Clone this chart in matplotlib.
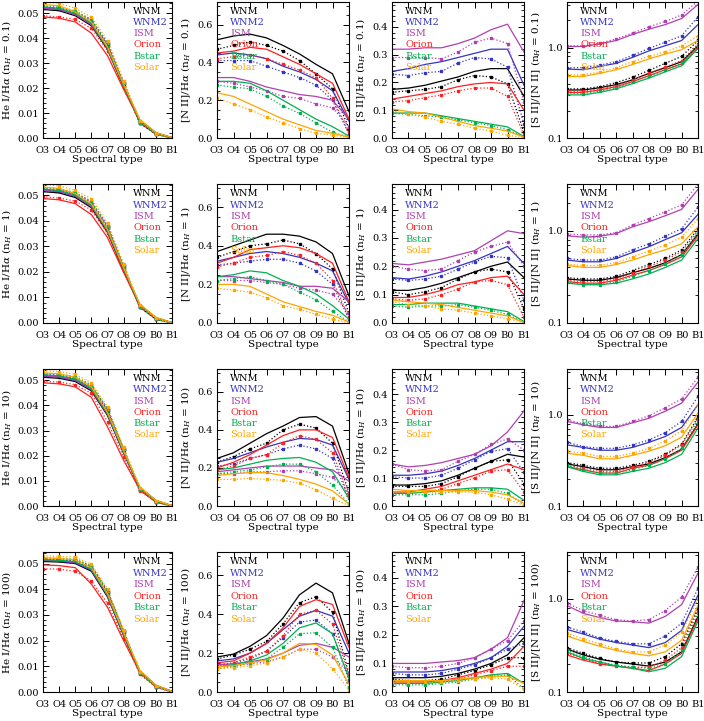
import numpy as np
import matplotlib
matplotlib.use('Agg')
import matplotlib.pyplot as plt
from matplotlib.ticker import MultipleLocator, LogLocator, NullFormatter, FixedLocator, FixedFormatter

plt.rcParams['font.family'] = ['DejaVu Serif']
plt.rcParams['mathtext.fontset'] = 'dejavuserif'

models = ['WNM', 'WNM2', 'ISM', 'Orion', 'Bstar', 'Solar']
colors = ['black', '#3535c0', '#b040b0', '#ff2020', '#00b050', '#ffa500']
spec_types = ['O3', 'O4', 'O5', 'O6', 'O7', 'O8', 'O9', 'B0', 'B1']
densities = ['0.1', '1', '10', '100']

# He I / Halpha  (rows: WNM, WNM2, ISM, Orion, Bstar, Solar)
he_01_s = [[0.0515, 0.0510, 0.0490, 0.0450, 0.0355, 0.0205, 0.0070, 0.0020, 0.0001],
           [0.0520, 0.0515, 0.0495, 0.0455, 0.0360, 0.0210, 0.0070, 0.0020, 0.0001],
           [0.0520, 0.0515, 0.0495, 0.0455, 0.0360, 0.0210, 0.0072, 0.0021, 0.0001],
           [0.0485, 0.0480, 0.0465, 0.0420, 0.0330, 0.0195, 0.0068, 0.0020, 0.0001],
           [0.0525, 0.0520, 0.0500, 0.0460, 0.0360, 0.0210, 0.0070, 0.0020, 0.0001],
           [0.0535, 0.0530, 0.0505, 0.0465, 0.0365, 0.0215, 0.0075, 0.0022, 0.0002]]
he_01_d = [[0.0520, 0.0515, 0.0500, 0.0465, 0.0370, 0.0215, 0.0060, 0.0015, 0.0],
           [0.0525, 0.0520, 0.0505, 0.0470, 0.0375, 0.0220, 0.0060, 0.0015, 0.0],
           [0.0525, 0.0520, 0.0505, 0.0475, 0.0380, 0.0225, 0.0065, 0.0017, 0.0],
           [0.0490, 0.0485, 0.0475, 0.0440, 0.0350, 0.0205, 0.0060, 0.0015, 0.0],
           [0.0530, 0.0525, 0.0510, 0.0475, 0.0380, 0.0220, 0.0060, 0.0015, 0.0],
           [0.0545, 0.0540, 0.0520, 0.0485, 0.0390, 0.0230, 0.0070, 0.0018, 0.0]]
he_1_s = [[0.0515, 0.0510, 0.0492, 0.0452, 0.0355, 0.0205, 0.0070, 0.0020, 0.0001],
          [0.0520, 0.0515, 0.0497, 0.0457, 0.0360, 0.0210, 0.0071, 0.0020, 0.0001],
          [0.0520, 0.0516, 0.0498, 0.0458, 0.0362, 0.0212, 0.0072, 0.0021, 0.0001],
          [0.0488, 0.0483, 0.0468, 0.0425, 0.0335, 0.0198, 0.0068, 0.0020, 0.0001],
          [0.0525, 0.0520, 0.0502, 0.0462, 0.0362, 0.0212, 0.0071, 0.0020, 0.0001],
          [0.0533, 0.0528, 0.0507, 0.0467, 0.0367, 0.0217, 0.0075, 0.0022, 0.0002]]
he_1_d = [[0.0520, 0.0516, 0.0502, 0.0467, 0.0372, 0.0217, 0.0062, 0.0015, 0.0],
          [0.0525, 0.0521, 0.0507, 0.0472, 0.0377, 0.0222, 0.0062, 0.0015, 0.0],
          [0.0526, 0.0522, 0.0508, 0.0476, 0.0382, 0.0226, 0.0066, 0.0017, 0.0],
          [0.0495, 0.0490, 0.0478, 0.0443, 0.0352, 0.0207, 0.0061, 0.0015, 0.0],
          [0.0530, 0.0526, 0.0512, 0.0477, 0.0382, 0.0222, 0.0062, 0.0015, 0.0],
          [0.0542, 0.0538, 0.0520, 0.0487, 0.0392, 0.0232, 0.0070, 0.0018, 0.0]]
he_10_s = [[0.0512, 0.0508, 0.0495, 0.0458, 0.0360, 0.0210, 0.0072, 0.0021, 0.0001],
           [0.0516, 0.0512, 0.0499, 0.0462, 0.0364, 0.0213, 0.0073, 0.0021, 0.0001],
           [0.0518, 0.0514, 0.0501, 0.0464, 0.0366, 0.0215, 0.0074, 0.0022, 0.0001],
           [0.0490, 0.0486, 0.0474, 0.0432, 0.0315, 0.0182, 0.0066, 0.0020, 0.0001],
           [0.0522, 0.0518, 0.0505, 0.0468, 0.0368, 0.0216, 0.0073, 0.0021, 0.0001],
           [0.0530, 0.0526, 0.0512, 0.0474, 0.0372, 0.0220, 0.0077, 0.0023, 0.0002]]
he_10_d = [[0.0518, 0.0515, 0.0505, 0.0472, 0.0378, 0.0222, 0.0064, 0.0016, 0.0],
           [0.0522, 0.0519, 0.0509, 0.0476, 0.0382, 0.0225, 0.0065, 0.0016, 0.0],
           [0.0524, 0.0521, 0.0511, 0.0478, 0.0385, 0.0228, 0.0068, 0.0017, 0.0],
           [0.0496, 0.0493, 0.0483, 0.0448, 0.0335, 0.0195, 0.0060, 0.0015, 0.0],
           [0.0528, 0.0525, 0.0515, 0.0482, 0.0387, 0.0228, 0.0065, 0.0016, 0.0],
           [0.0538, 0.0535, 0.0524, 0.0490, 0.0394, 0.0234, 0.0072, 0.0019, 0.0]]
he_100_s = [[0.0508, 0.0506, 0.0500, 0.0470, 0.0370, 0.0220, 0.0080, 0.0025, 0.0002],
            [0.0511, 0.0509, 0.0503, 0.0474, 0.0374, 0.0223, 0.0081, 0.0025, 0.0002],
            [0.0513, 0.0511, 0.0505, 0.0476, 0.0376, 0.0225, 0.0082, 0.0026, 0.0002],
            [0.0495, 0.0492, 0.0484, 0.0420, 0.0330, 0.0200, 0.0078, 0.0024, 0.0002],
            [0.0515, 0.0513, 0.0507, 0.0478, 0.0378, 0.0226, 0.0081, 0.0025, 0.0002],
            [0.0522, 0.0520, 0.0514, 0.0484, 0.0382, 0.0230, 0.0085, 0.0027, 0.0003]]
he_100_d = [[0.0515, 0.0513, 0.0510, 0.0484, 0.0386, 0.0232, 0.0073, 0.0020, 0.0],
            [0.0518, 0.0516, 0.0513, 0.0488, 0.0390, 0.0235, 0.0074, 0.0020, 0.0],
            [0.0520, 0.0518, 0.0515, 0.0490, 0.0393, 0.0238, 0.0076, 0.0021, 0.0],
            [0.0480, 0.0478, 0.0470, 0.0432, 0.0345, 0.0208, 0.0070, 0.0019, 0.0],
            [0.0522, 0.0520, 0.0517, 0.0492, 0.0395, 0.0238, 0.0074, 0.0020, 0.0],
            [0.0530, 0.0528, 0.0525, 0.0498, 0.0400, 0.0243, 0.0078, 0.0022, 0.0]]

# [N II] / Halpha
n2_01_s = [[0.52, 0.54, 0.55, 0.53, 0.49, 0.445, 0.39, 0.34, 0.14],
           [0.44, 0.45, 0.44, 0.42, 0.38, 0.35, 0.31, 0.25, 0.09],
           [0.32, 0.32, 0.30, 0.27, 0.25, 0.23, 0.22, 0.20, 0.10],
           [0.45, 0.46, 0.48, 0.47, 0.43, 0.39, 0.34, 0.29, 0.10],
           [0.30, 0.30, 0.29, 0.25, 0.20, 0.15, 0.10, 0.06, 0.01],
           [0.24, 0.22, 0.18, 0.14, 0.10, 0.07, 0.04, 0.025, 0.005]]
n2_01_d = [[0.47, 0.49, 0.51, 0.49, 0.46, 0.41, 0.34, 0.26, 0.05],
           [0.41, 0.41, 0.41, 0.38, 0.35, 0.32, 0.28, 0.20, 0.02],
           [0.30, 0.29, 0.27, 0.25, 0.22, 0.21, 0.18, 0.16, 0.06],
           [0.42, 0.43, 0.44, 0.42, 0.39, 0.36, 0.32, 0.21, 0.03],
           [0.28, 0.27, 0.26, 0.22, 0.17, 0.13, 0.08, 0.03, 0.005],
           [0.21, 0.18, 0.15, 0.11, 0.08, 0.05, 0.025, 0.015, 0.002]]
n2_1_s = [[0.37, 0.40, 0.43, 0.46, 0.46, 0.45, 0.42, 0.36, 0.14],
          [0.32, 0.34, 0.36, 0.37, 0.36, 0.34, 0.31, 0.27, 0.10],
          [0.24, 0.24, 0.23, 0.22, 0.21, 0.19, 0.19, 0.18, 0.11],
          [0.31, 0.34, 0.38, 0.39, 0.40, 0.39, 0.36, 0.31, 0.11],
          [0.24, 0.25, 0.27, 0.26, 0.22, 0.19, 0.15, 0.09, 0.02],
          [0.20, 0.20, 0.19, 0.15, 0.11, 0.085, 0.06, 0.04, 0.005]]
n2_1_d = [[0.34, 0.37, 0.40, 0.41, 0.43, 0.41, 0.36, 0.28, 0.05],
          [0.30, 0.31, 0.32, 0.33, 0.33, 0.31, 0.27, 0.20, 0.02],
          [0.22, 0.22, 0.22, 0.21, 0.20, 0.18, 0.17, 0.15, 0.05],
          [0.29, 0.31, 0.34, 0.35, 0.37, 0.35, 0.31, 0.22, 0.03],
          [0.22, 0.23, 0.24, 0.22, 0.20, 0.16, 0.12, 0.06, 0.005],
          [0.18, 0.17, 0.16, 0.13, 0.09, 0.07, 0.045, 0.02, 0.001]]
n2_10_s = [[0.25, 0.28, 0.33, 0.38, 0.42, 0.465, 0.47, 0.42, 0.17],
           [0.23, 0.25, 0.28, 0.31, 0.335, 0.355, 0.35, 0.32, 0.14],
           [0.18, 0.19, 0.20, 0.21, 0.21, 0.21, 0.20, 0.19, 0.13],
           [0.20, 0.23, 0.27, 0.32, 0.37, 0.40, 0.40, 0.36, 0.15],
           [0.19, 0.20, 0.22, 0.24, 0.25, 0.255, 0.23, 0.18, 0.04],
           [0.16, 0.17, 0.175, 0.175, 0.16, 0.14, 0.115, 0.08, 0.01]]
n2_10_d = [[0.23, 0.26, 0.30, 0.33, 0.40, 0.43, 0.41, 0.33, 0.07],
           [0.21, 0.22, 0.25, 0.27, 0.30, 0.32, 0.30, 0.25, 0.04],
           [0.17, 0.17, 0.18, 0.18, 0.185, 0.185, 0.17, 0.15, 0.07],
           [0.19, 0.21, 0.25, 0.27, 0.33, 0.37, 0.35, 0.28, 0.05],
           [0.17, 0.18, 0.19, 0.205, 0.22, 0.22, 0.18, 0.11, 0.01],
           [0.14, 0.14, 0.145, 0.14, 0.135, 0.12, 0.085, 0.04, 0.002]]
n2_100_s = [[0.18, 0.195, 0.235, 0.29, 0.38, 0.50, 0.56, 0.51, 0.25],
            [0.16, 0.17, 0.20, 0.25, 0.32, 0.39, 0.42, 0.39, 0.20],
            [0.14, 0.145, 0.155, 0.17, 0.20, 0.24, 0.25, 0.23, 0.18],
            [0.15, 0.16, 0.20, 0.25, 0.33, 0.44, 0.475, 0.45, 0.23],
            [0.13, 0.14, 0.16, 0.19, 0.25, 0.33, 0.355, 0.30, 0.07],
            [0.13, 0.135, 0.15, 0.165, 0.20, 0.25, 0.245, 0.19, 0.04]]
n2_100_d = [[0.17, 0.19, 0.22, 0.26, 0.35, 0.46, 0.49, 0.41, 0.09],
            [0.14, 0.15, 0.17, 0.21, 0.28, 0.36, 0.37, 0.30, 0.06],
            [0.13, 0.135, 0.145, 0.155, 0.18, 0.22, 0.22, 0.18, 0.10],
            [0.13, 0.15, 0.18, 0.21, 0.29, 0.40, 0.42, 0.35, 0.08],
            [0.12, 0.13, 0.15, 0.17, 0.23, 0.30, 0.305, 0.23, 0.02],
            [0.12, 0.125, 0.135, 0.15, 0.18, 0.22, 0.20, 0.12, 0.01]]

# [S II] / Halpha
s2_01_s = [[0.175, 0.18, 0.19, 0.205, 0.22, 0.24, 0.25, 0.25, 0.15],
           [0.24, 0.25, 0.265, 0.275, 0.29, 0.305, 0.32, 0.32, 0.19],
           [0.32, 0.32, 0.325, 0.325, 0.34, 0.36, 0.39, 0.41, 0.31],
           [0.14, 0.15, 0.16, 0.17, 0.185, 0.195, 0.20, 0.195, 0.10],
           [0.09, 0.09, 0.09, 0.08, 0.07, 0.06, 0.05, 0.04, 0.005],
           [0.105, 0.095, 0.09, 0.075, 0.06, 0.045, 0.035, 0.025, 0.003]]
s2_01_d = [[0.165, 0.17, 0.175, 0.185, 0.21, 0.225, 0.22, 0.195, 0.02],
           [0.23, 0.225, 0.235, 0.24, 0.27, 0.29, 0.285, 0.255, 0.05],
           [0.29, 0.29, 0.29, 0.285, 0.31, 0.345, 0.36, 0.34, 0.13],
           [0.13, 0.135, 0.145, 0.155, 0.17, 0.18, 0.18, 0.15, 0.01],
           [0.09, 0.085, 0.08, 0.075, 0.065, 0.055, 0.045, 0.03, 0.002],
           [0.10, 0.085, 0.075, 0.06, 0.05, 0.035, 0.025, 0.01, 0.001]]
s2_1_s = [[0.115, 0.115, 0.125, 0.14, 0.16, 0.18, 0.20, 0.215, 0.16],
          [0.16, 0.155, 0.165, 0.18, 0.20, 0.22, 0.245, 0.27, 0.21],
          [0.21, 0.205, 0.215, 0.225, 0.24, 0.255, 0.29, 0.325, 0.315],
          [0.09, 0.09, 0.10, 0.115, 0.135, 0.145, 0.16, 0.165, 0.10],
          [0.065, 0.065, 0.07, 0.07, 0.07, 0.06, 0.05, 0.04, 0.005],
          [0.08, 0.075, 0.07, 0.065, 0.055, 0.045, 0.035, 0.025, 0.002]]
s2_1_d = [[0.11, 0.10, 0.11, 0.125, 0.155, 0.18, 0.19, 0.18, 0.05],
          [0.155, 0.15, 0.155, 0.165, 0.19, 0.215, 0.235, 0.23, 0.08],
          [0.20, 0.19, 0.185, 0.19, 0.22, 0.25, 0.27, 0.285, 0.20],
          [0.085, 0.08, 0.085, 0.10, 0.12, 0.145, 0.15, 0.135, 0.02],
          [0.06, 0.055, 0.06, 0.06, 0.065, 0.055, 0.045, 0.03, 0.002],
          [0.075, 0.065, 0.06, 0.05, 0.045, 0.035, 0.025, 0.015, 0.001]]
s2_10_s = [[0.075, 0.075, 0.08, 0.09, 0.11, 0.135, 0.16, 0.185, 0.175],
           [0.11, 0.11, 0.115, 0.125, 0.145, 0.17, 0.20, 0.23, 0.23],
           [0.15, 0.14, 0.145, 0.155, 0.17, 0.185, 0.215, 0.265, 0.34],
           [0.05, 0.05, 0.06, 0.07, 0.09, 0.11, 0.13, 0.15, 0.13],
           [0.045, 0.045, 0.05, 0.055, 0.06, 0.065, 0.065, 0.06, 0.02],
           [0.06, 0.055, 0.055, 0.055, 0.055, 0.055, 0.05, 0.04, 0.01]]
s2_10_d = [[0.07, 0.07, 0.07, 0.08, 0.105, 0.135, 0.16, 0.165, 0.08],
           [0.105, 0.10, 0.10, 0.11, 0.135, 0.165, 0.195, 0.205, 0.12],
           [0.15, 0.13, 0.125, 0.13, 0.16, 0.185, 0.22, 0.24, 0.20],
           [0.045, 0.045, 0.05, 0.06, 0.08, 0.10, 0.125, 0.13, 0.05],
           [0.04, 0.04, 0.04, 0.045, 0.055, 0.06, 0.06, 0.045, 0.005],
           [0.05, 0.05, 0.05, 0.05, 0.05, 0.05, 0.04, 0.025, 0.002]]
s2_100_s = [[0.05, 0.05, 0.05, 0.055, 0.065, 0.08, 0.10, 0.13, 0.19],
            [0.07, 0.07, 0.07, 0.075, 0.085, 0.10, 0.12, 0.16, 0.23],
            [0.10, 0.10, 0.10, 0.105, 0.11, 0.12, 0.15, 0.19, 0.32],
            [0.035, 0.035, 0.035, 0.04, 0.05, 0.065, 0.08, 0.10, 0.16],
            [0.03, 0.03, 0.03, 0.035, 0.04, 0.05, 0.06, 0.065, 0.03],
            [0.04, 0.04, 0.04, 0.04, 0.045, 0.05, 0.055, 0.055, 0.03]]
s2_100_d = [[0.045, 0.04, 0.04, 0.045, 0.06, 0.075, 0.095, 0.12, 0.12],
            [0.065, 0.06, 0.06, 0.065, 0.08, 0.095, 0.12, 0.15, 0.17],
            [0.09, 0.085, 0.085, 0.09, 0.10, 0.12, 0.15, 0.18, 0.25],
            [0.03, 0.03, 0.03, 0.035, 0.045, 0.06, 0.075, 0.09, 0.09],
            [0.025, 0.025, 0.025, 0.03, 0.035, 0.045, 0.055, 0.06, 0.01],
            [0.035, 0.035, 0.035, 0.035, 0.04, 0.045, 0.05, 0.045, 0.01]]

# [S II] / [N II]
sn_01_s = [[0.34, 0.34, 0.36, 0.39, 0.44, 0.52, 0.60, 0.70, 1.05],
           [0.58, 0.57, 0.62, 0.67, 0.78, 0.92, 1.05, 1.20, 1.80],
           [1.03, 1.03, 1.10, 1.20, 1.40, 1.60, 1.80, 2.10, 3.00],
           [0.32, 0.32, 0.34, 0.37, 0.42, 0.49, 0.57, 0.66, 1.00],
           [0.30, 0.30, 0.32, 0.35, 0.40, 0.46, 0.54, 0.63, 0.98],
           [0.48, 0.48, 0.52, 0.57, 0.65, 0.75, 0.85, 0.95, 1.20]]
sn_01_d = [[0.35, 0.35, 0.37, 0.41, 0.47, 0.56, 0.67, 0.80, 1.20],
           [0.60, 0.60, 0.64, 0.70, 0.82, 0.98, 1.15, 1.35, 2.20],
           [1.05, 1.05, 1.12, 1.25, 1.45, 1.70, 1.95, 2.30, 3.30],
           [0.33, 0.33, 0.35, 0.38, 0.44, 0.52, 0.61, 0.72, 1.10],
           [0.31, 0.31, 0.33, 0.36, 0.42, 0.48, 0.57, 0.67, 1.05],
           [0.50, 0.50, 0.54, 0.60, 0.70, 0.80, 0.90, 1.05, 1.35]]
sn_1_s = [[0.30, 0.29, 0.29, 0.31, 0.35, 0.39, 0.45, 0.55, 0.92],
          [0.48, 0.46, 0.46, 0.50, 0.58, 0.67, 0.80, 0.95, 1.50],
          [0.88, 0.85, 0.87, 0.93, 1.10, 1.25, 1.45, 1.70, 2.80],
          [0.28, 0.27, 0.27, 0.29, 0.33, 0.37, 0.43, 0.52, 0.88],
          [0.27, 0.26, 0.26, 0.27, 0.30, 0.34, 0.40, 0.48, 0.82],
          [0.42, 0.40, 0.40, 0.43, 0.48, 0.55, 0.62, 0.72, 1.10]]
sn_1_d = [[0.31, 0.30, 0.30, 0.32, 0.37, 0.43, 0.50, 0.62, 1.05],
          [0.50, 0.48, 0.48, 0.52, 0.62, 0.72, 0.87, 1.05, 1.80],
          [0.92, 0.90, 0.90, 0.95, 1.15, 1.35, 1.60, 1.90, 3.20],
          [0.29, 0.28, 0.28, 0.30, 0.35, 0.41, 0.48, 0.59, 1.00],
          [0.28, 0.26, 0.26, 0.28, 0.32, 0.37, 0.44, 0.55, 0.95],
          [0.43, 0.42, 0.42, 0.45, 0.52, 0.60, 0.70, 0.85, 1.35]]
sn_10_s = [[0.29, 0.27, 0.25, 0.25, 0.27, 0.29, 0.34, 0.42, 0.80],
           [0.47, 0.44, 0.41, 0.41, 0.44, 0.50, 0.58, 0.73, 1.30],
           [0.85, 0.78, 0.73, 0.73, 0.82, 0.92, 1.10, 1.35, 2.30],
           [0.27, 0.25, 0.23, 0.23, 0.26, 0.28, 0.33, 0.41, 0.78],
           [0.27, 0.24, 0.22, 0.22, 0.24, 0.26, 0.30, 0.37, 0.72],
           [0.38, 0.36, 0.33, 0.33, 0.36, 0.40, 0.46, 0.57, 1.05]]
sn_10_d = [[0.30, 0.28, 0.26, 0.26, 0.28, 0.31, 0.37, 0.48, 0.95],
           [0.50, 0.45, 0.43, 0.43, 0.47, 0.53, 0.64, 0.85, 1.60],
           [0.88, 0.80, 0.75, 0.75, 0.85, 0.98, 1.20, 1.50, 2.60],
           [0.28, 0.26, 0.24, 0.24, 0.27, 0.30, 0.36, 0.47, 0.90],
           [0.28, 0.25, 0.23, 0.23, 0.25, 0.28, 0.33, 0.43, 0.85],
           [0.40, 0.38, 0.35, 0.35, 0.38, 0.43, 0.52, 0.67, 1.30]]
sn_100_s = [[0.29, 0.25, 0.225, 0.21, 0.20, 0.19, 0.21, 0.27, 0.65],
            [0.47, 0.42, 0.37, 0.34, 0.32, 0.30, 0.34, 0.46, 1.10],
            [0.85, 0.70, 0.63, 0.58, 0.57, 0.55, 0.65, 0.87, 1.90],
            [0.25, 0.22, 0.20, 0.19, 0.18, 0.17, 0.20, 0.26, 0.62],
            [0.27, 0.23, 0.21, 0.19, 0.18, 0.165, 0.18, 0.24, 0.58],
            [0.40, 0.35, 0.31, 0.28, 0.26, 0.245, 0.27, 0.36, 0.85]]
sn_100_d = [[0.30, 0.26, 0.23, 0.21, 0.205, 0.205, 0.24, 0.33, 0.80],
            [0.50, 0.44, 0.38, 0.35, 0.33, 0.33, 0.40, 0.55, 1.30],
            [0.90, 0.75, 0.67, 0.60, 0.58, 0.60, 0.75, 1.05, 2.20],
            [0.26, 0.23, 0.20, 0.19, 0.185, 0.185, 0.22, 0.30, 0.75],
            [0.28, 0.24, 0.21, 0.195, 0.185, 0.18, 0.20, 0.28, 0.70],
            [0.43, 0.37, 0.33, 0.29, 0.27, 0.27, 0.32, 0.44, 1.00]]

solid = [[he_01_s, n2_01_s, s2_01_s, sn_01_s],
         [he_1_s, n2_1_s, s2_1_s, sn_1_s],
         [he_10_s, n2_10_s, s2_10_s, sn_10_s],
         [he_100_s, n2_100_s, s2_100_s, sn_100_s]]
dotted = [[he_01_d, n2_01_d, s2_01_d, sn_01_d],
          [he_1_d, n2_1_d, s2_1_d, sn_1_d],
          [he_10_d, n2_10_d, s2_10_d, sn_10_d],
          [he_100_d, n2_100_d, s2_100_d, sn_100_d]]

ylabels = ['He I/H$\\alpha$', '[N II]/H$\\alpha$', '[S II]/H$\\alpha$', '[S II]/[N II]']

W, H = 704, 721
fig = plt.figure(figsize=(W / 100, H / 100), dpi=100)

lefts = [43, 217, 392, 567]
widths = [129, 132, 132, 131]
tops = [2, 184, 369, 552]
bottoms = [138, 323, 506, 692]

x = np.arange(len(spec_types))
fs = 7

for r in range(4):
    for c in range(4):
        ax = fig.add_axes([lefts[c] / W, 1 - bottoms[r] / H,
                           widths[c] / W, (bottoms[r] - tops[r]) / H])
        for i, m in enumerate(models):
            ax.plot(x, solid[r][c][i], '-', color=colors[i], lw=0.9)
            ax.plot(x, dotted[r][c][i], ':', color=colors[i], lw=0.9,
                    marker='s', ms=2.0)
        ax.set_xlim(0, 8)
        ax.set_xticks(x)
        ax.set_xticklabels(spec_types, fontsize=fs)
        if c == 0:
            ax.set_ylim(0, 0.0545)
            ax.yaxis.set_major_locator(MultipleLocator(0.01))
            ax.yaxis.set_minor_locator(MultipleLocator(0.002))
            ax.yaxis.set_major_formatter(plt.FuncFormatter(lambda v, p: '%.2f' % v))
        elif c == 1:
            ax.set_ylim(0, 0.72)
            ax.yaxis.set_major_locator(MultipleLocator(0.2))
            ax.yaxis.set_minor_locator(MultipleLocator(0.05))
            ax.yaxis.set_major_formatter(plt.FuncFormatter(lambda v, p: '%.1f' % v))
        elif c == 2:
            ax.set_ylim(0, 0.49)
            ax.yaxis.set_major_locator(MultipleLocator(0.1))
            ax.yaxis.set_minor_locator(MultipleLocator(0.02))
            ax.yaxis.set_major_formatter(plt.FuncFormatter(lambda v, p: '%.1f' % v))
        else:
            ax.set_yscale('log')
            ax.set_ylim(0.1, 3.2)
            ax.yaxis.set_major_locator(FixedLocator([0.1, 1.0]))
            ax.yaxis.set_major_formatter(FixedFormatter(['0.1', '1.0']))
            ax.yaxis.set_minor_locator(LogLocator(subs=np.arange(2, 10)))
            ax.yaxis.set_minor_formatter(NullFormatter())
        ax.tick_params(axis='both', which='both', direction='in', top=True, right=True,
                       labelsize=fs)
        ax.tick_params(which='major', length=4, width=0.7)
        ax.tick_params(which='minor', length=2, width=0.6)
        ax.tick_params(axis='x', pad=6)
        ax.tick_params(axis='y', pad=3)
        for sp in ax.spines.values():
            sp.set_linewidth(0.8)
        ax.set_xlabel('Spectral type', fontsize=fs + 0.5, labelpad=0)
        ax.set_ylabel(ylabels[c] + ' (n$_H$ = ' + densities[r] + ')', fontsize=fs + 0.5,
                      labelpad=3)

        lx = 0.70 if c == 0 else 0.10
        for i, m in enumerate(models):
            ax.text(lx, 0.93 - i * 0.082, m, color=colors[i], fontsize=fs,
                    transform=ax.transAxes, va='center', ha='left')

fig.savefig('out.png', dpi=100)
